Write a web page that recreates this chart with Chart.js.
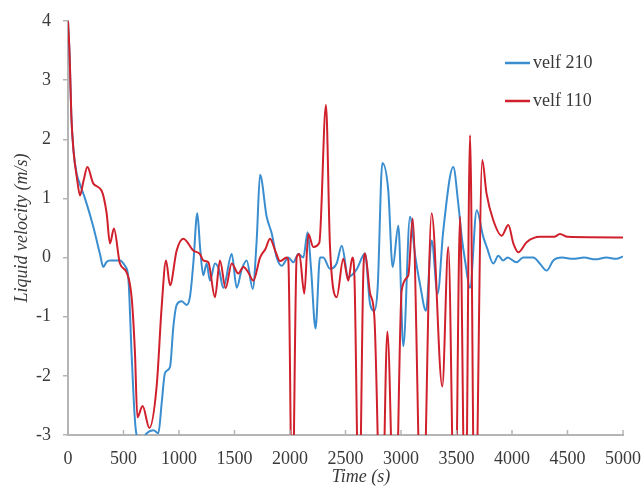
<!DOCTYPE html>
<html>
<head>
<meta charset="utf-8">
<script src="https://cdn.jsdelivr.net/npm/chart.js@4"></script>
<style>
  body { margin: 0; background: #fff; }
  #wrap { width: 642px; height: 486px; }
</style>
</head>
<body>
<div id="wrap"><canvas id="velocityChart" width="642" height="486"></canvas></div>
<script>
// time (s) and liquid velocity (m/s)
const time210 = [0, 15, 30, 50, 80, 100, 153, 228, 288, 318, 345, 378, 468, 513, 543, 573, 603, 625, 660, 709, 769, 814, 844, 874, 919, 949, 979, 1024, 1069, 1099, 1129, 1165, 1190, 1219, 1249, 1279, 1324, 1360, 1399, 1475, 1520, 1565, 1610, 1664, 1700, 1730, 1790, 1835, 1880, 1925, 1985, 2030, 2075, 2120, 2159, 2190, 2230, 2270, 2300, 2360, 2420, 2466, 2525, 2600, 2676, 2721, 2760, 2790, 2832, 2885, 2925, 2976, 3021, 3081, 3130, 3171, 3225, 3276, 3330, 3381, 3471, 3516, 3547, 3577, 3622, 3682, 3741, 3772, 3832, 3877, 3920, 3960, 4042, 4100, 4192, 4250, 4312, 4372, 4450, 4550, 4650, 4750, 4850, 4940, 5000];
const velf210 = [4.0, 3.4, 2.4, 1.8, 1.4, 1.28, 1.0, 0.52, 0.06, -0.16, -0.08, -0.05, -0.05, -0.14, -0.33, -1.63, -2.75, -3.05, -3.1, -2.97, -2.92, -2.97, -2.46, -1.95, -1.85, -1.17, -0.8, -0.74, -0.8, -0.66, -0.1, 0.75, 0.17, -0.3, -0.1, -0.39, -0.1, -0.2, -0.51, 0.06, -0.51, -0.2, -0.05, -0.53, 0.3, 1.4, 0.69, 0.41, 0.0, -0.14, 0.0, -0.08, 0.06, 0.0, 0.43, -0.2, -1.2, 0.0, 0.0, -0.19, -0.1, 0.2, -0.33, -0.2, 0.07, -0.78, -0.9, -0.5, 1.6, 1.14, -0.16, 0.54, -1.5, 0.69, 0.0, -0.45, -0.9, 0.29, -0.61, 0.46, 1.53, 0.91, 0.35, -0.05, -0.51, 0.8, 0.35, 0.18, -0.1, 0.03, -0.05, 0.0, -0.08, 0.0, 0.0, -0.1, -0.22, -0.05, 0.0, -0.02, 0.0, -0.03, 0.0, -0.02, 0.02];

const time110 = [0, 15, 30, 50, 80, 108, 140, 175, 228, 303, 348, 378, 414, 468, 528, 573, 603, 625, 672, 733, 799, 844, 883, 919, 979, 1039, 1129, 1189, 1220, 1264, 1324, 1369, 1420, 1475, 1534, 1580, 1624, 1670, 1730, 1780, 1820, 1870, 1910, 1970, 1985, 2020, 2060, 2084, 2129, 2165, 2210, 2264, 2324, 2360, 2421, 2480, 2525, 2562, 2580, 2622, 2660, 2676, 2721, 2760, 2825, 2877, 2945, 3006, 3066, 3105, 3190, 3276, 3372, 3426, 3486, 3532, 3580, 3622, 3665, 3732, 3770, 3830, 3907, 3967, 4012, 4057, 4132, 4252, 4380, 4432, 4500, 5000];
const velf110 = [4.0, 3.4, 2.4, 1.8, 1.35, 1.05, 1.3, 1.53, 1.25, 1.13, 0.75, 0.24, 0.49, -0.1, -0.25, -0.67, -1.6, -2.7, -2.51, -2.88, -2.17, -0.83, -0.05, -0.47, 0.12, 0.32, 0.12, 0.06, -0.05, -0.08, -0.67, -0.05, -0.52, -0.1, -0.27, -0.16, -0.25, -0.39, 0.0, 0.15, 0.32, 0.1, -0.06, 0.0, -0.05, -4.5, 0.0, 0.06, -0.61, 0.4, 0.18, 0.25, 2.58, 0.2, -0.67, -0.02, -0.39, 0.0, -0.3, -4.5, -0.3, 0.07, -0.6, -1.0, -5.0, -1.25, -5.0, -0.56, -0.3, 0.66, -5.0, 0.75, -2.18, 0.18, -5.0, 0.69, -5.0, 2.07, -5.0, 1.65, 1.09, 0.64, 0.37, 0.55, 0.24, 0.09, 0.26, 0.35, 0.35, 0.4, 0.35, 0.34];

const xTicks = [0, 500, 1000, 1500, 2000, 2500, 3000, 3500, 4000, 4500, 5000];
const yTicks = [-3, -2, -1, 0, 1, 2, 3, 4];

const axisColor = "#b5b5b5";
const textColor = "#3a3a3a";
const serif = "'Liberation Serif', 'Times New Roman', serif";

function toPoints(ts, vs) {
    return ts.map((t, i) => ({ x: t, y: vs[i] }));
}

// inward x ticks, legend and x title
const decor = {
    id: "decor",
    afterDraw(chart) {
        const ctx = chart.ctx;
        const area = chart.chartArea;
        const xs = chart.scales.x;
        ctx.save();
        ctx.strokeStyle = axisColor;
        ctx.lineWidth = 1.5;
        xTicks.forEach(v => {
            const px = xs.getPixelForValue(v);
            ctx.beginPath();
            ctx.moveTo(px, area.bottom);
            ctx.lineTo(px, area.bottom - 5);
            ctx.stroke();
        });

        ctx.font = "18px " + serif;
        ctx.textBaseline = "middle";
        ctx.textAlign = "left";
        chart.data.datasets.forEach((ds, i) => {
            const ly = 63 + i * 38;
            ctx.strokeStyle = ds.borderColor;
            ctx.lineWidth = 2.5;
            ctx.beginPath();
            ctx.moveTo(505, ly);
            ctx.lineTo(530, ly);
            ctx.stroke();
            ctx.fillStyle = textColor;
            ctx.fillText(ds.label, 533, ly);
        });

        ctx.font = "italic 18px " + serif;
        ctx.textAlign = "center";
        ctx.fillText("Time (s)", 361, 477);
        ctx.restore();
    }
};

const ctx = document.getElementById("velocityChart").getContext("2d");
new Chart(ctx, {
    type: "line",
    data: {
        datasets: [{
            label: "velf 210",
            data: toPoints(time210, velf210),
            borderColor: "#3a8ed0",
            borderWidth: 2,
            pointRadius: 0,
            cubicInterpolationMode: "monotone",
            order: 1
        }, {
            label: "velf 110",
            data: toPoints(time110, velf110),
            borderColor: "#d0202c",
            borderWidth: 2,
            pointRadius: 0,
            cubicInterpolationMode: "monotone",
            order: 0
        }]
    },
    options: {
        responsive: false,
        animation: false,
        layout: { padding: { left: 0, right: 19, top: 21, bottom: 0 } },
        plugins: {
            legend: { display: false },
            tooltip: { enabled: false }
        },
        scales: {
            x: {
                type: "linear",
                min: 0,
                max: 5000,
                afterFit: s => { s.height = 51; s.paddingLeft = 0; s.paddingRight = 0; },
                afterBuildTicks: s => { s.ticks = xTicks.map(v => ({ value: v })); },
                grid: { display: false, drawTicks: false },
                border: { display: true, color: axisColor, width: 2 },
                ticks: { padding: 13, maxRotation: 0, color: textColor, font: { family: serif, size: 18 }, callback: v => String(v) }
            },
            y: {
                min: -3,
                max: 4,
                afterFit: s => { s.width = 68; s.paddingTop = 0; s.paddingBottom = 0; },
                afterBuildTicks: s => { s.ticks = yTicks.map(v => ({ value: v })); },
                grid: { display: true, drawOnChartArea: false, drawTicks: true, tickLength: 5, color: axisColor, lineWidth: 1.5 },
                border: { display: true, color: axisColor, width: 2 },
                title: { display: true, text: "Liquid velocity (m/s)", color: textColor, padding: { top: 11, bottom: 0 }, font: { family: serif, size: 18, style: "italic" } },
                ticks: { padding: 12, color: textColor, font: { family: serif, size: 18 }, callback: v => String(v) }
            }
        }
    },
    plugins: [decor]
});
</script>
</body>
</html>
